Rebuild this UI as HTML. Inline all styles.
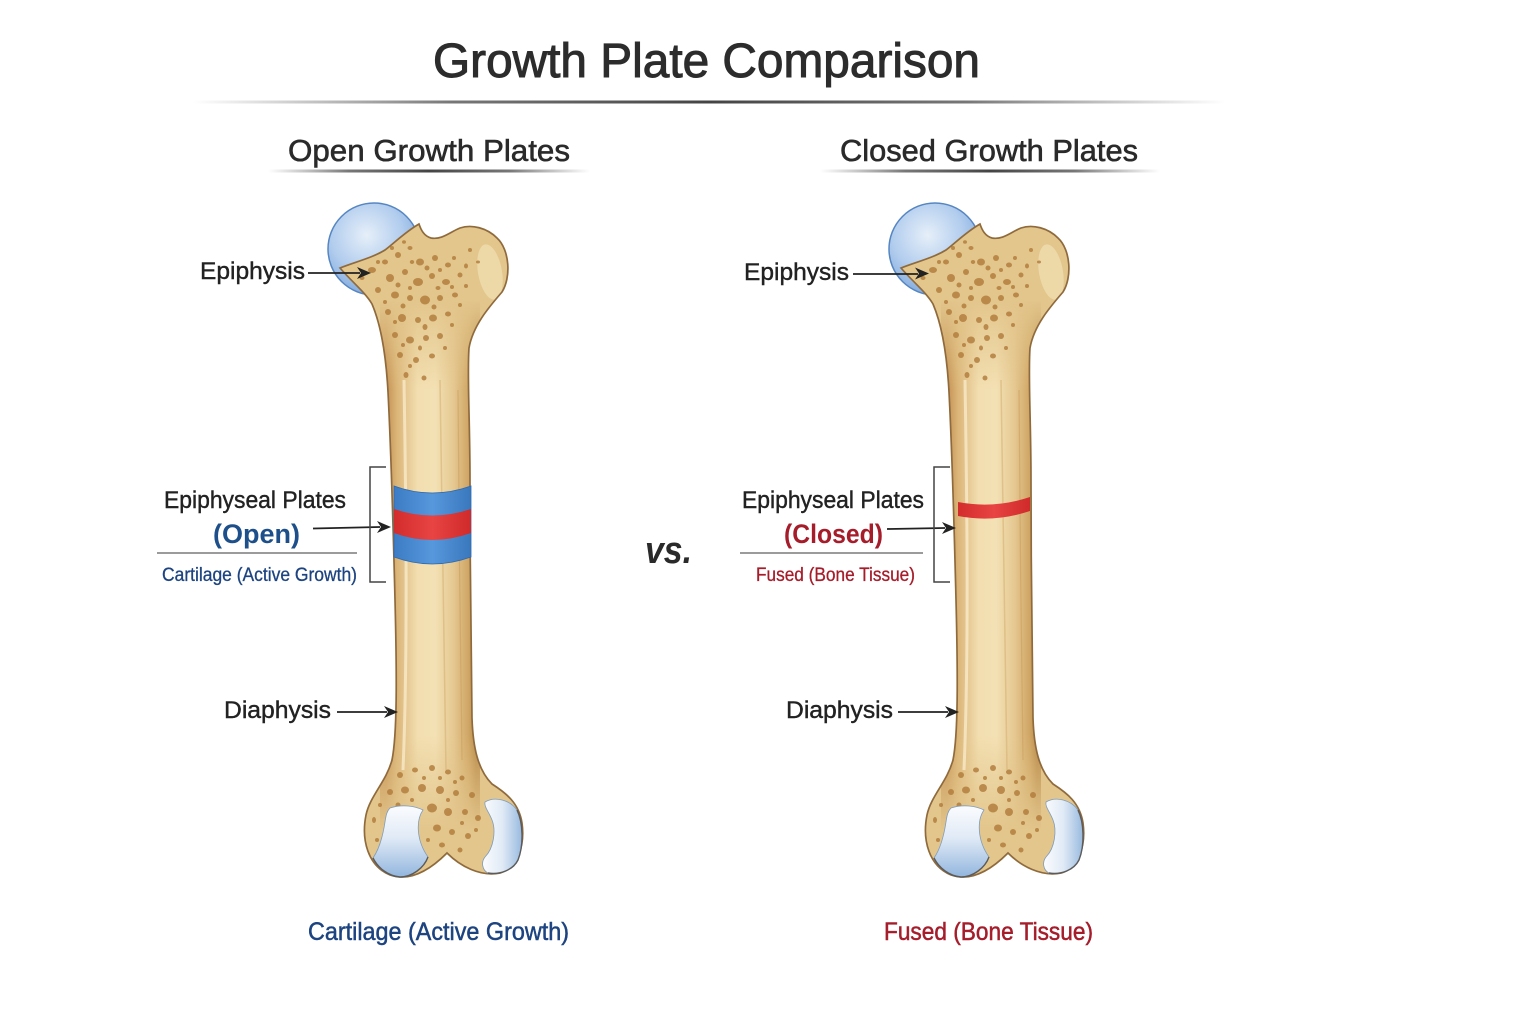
<!DOCTYPE html>
<html><head><meta charset="utf-8"><style>
html,body{margin:0;padding:0;background:#fff;}
svg{display:block;}
text{font-family:"Liberation Sans",Arial,sans-serif;}
</style></head><body>
<svg width="1536" height="1024" viewBox="0 0 1536 1024" xmlns="http://www.w3.org/2000/svg">
<defs>
  <linearGradient id="rule" x1="0" x2="1" y1="0" y2="0">
    <stop offset="0" stop-color="#666" stop-opacity="0"/>
    <stop offset="0.25" stop-color="#555" stop-opacity="0.8"/>
    <stop offset="0.5" stop-color="#444" stop-opacity="1"/>
    <stop offset="0.75" stop-color="#555" stop-opacity="0.8"/>
    <stop offset="1" stop-color="#666" stop-opacity="0"/>
  </linearGradient>
  <radialGradient id="head" cx="0.42" cy="0.35" r="0.7">
    <stop offset="0" stop-color="#e6eff9"/>
    <stop offset="0.55" stop-color="#b2cdee"/>
    <stop offset="1" stop-color="#7aa5da"/>
  </radialGradient>
  <linearGradient id="shaft" gradientUnits="userSpaceOnUse" x1="386" y1="0" x2="476" y2="0">
    <stop offset="0" stop-color="#c38f52"/>
    <stop offset="0.12" stop-color="#dbb578"/>
    <stop offset="0.35" stop-color="#f2deb0"/>
    <stop offset="0.55" stop-color="#f3e0b4"/>
    <stop offset="0.75" stop-color="#e5c891"/>
    <stop offset="0.92" stop-color="#cfa564"/>
    <stop offset="1" stop-color="#b98a4a"/>
  </linearGradient>
  <linearGradient id="vfade" gradientUnits="userSpaceOnUse" x1="0" y1="300" x2="0" y2="830">
    <stop offset="0" stop-color="#000"/>
    <stop offset="0.17" stop-color="#fff"/>
    <stop offset="0.82" stop-color="#fff"/>
    <stop offset="1" stop-color="#000"/>
  </linearGradient>
  <mask id="vm"><rect x="320" y="190" width="220" height="720" fill="url(#vfade)"/></mask>
  <linearGradient id="condA" x1="0" y1="0" x2="0" y2="1">
    <stop offset="0" stop-color="#fbfcfe"/>
    <stop offset="0.45" stop-color="#e0eaf6"/>
    <stop offset="1" stop-color="#92b6de"/>
  </linearGradient>
  <linearGradient id="condB" x1="0" y1="0" x2="1" y2="0">
    <stop offset="0" stop-color="#fbfcfe"/>
    <stop offset="0.5" stop-color="#e0eaf6"/>
    <stop offset="1" stop-color="#98badf"/>
  </linearGradient>
  <linearGradient id="blueb" x1="0" x2="1" y1="0" y2="0">
    <stop offset="0" stop-color="#3b7cc4"/>
    <stop offset="0.5" stop-color="#5797dc"/>
    <stop offset="1" stop-color="#3a78be"/>
  </linearGradient>
  <linearGradient id="redb" x1="0" x2="1" y1="0" y2="0">
    <stop offset="0" stop-color="#d42c2c"/>
    <stop offset="0.5" stop-color="#e84444"/>
    <stop offset="1" stop-color="#d02a2a"/>
  </linearGradient>
  <path id="bp" d="M 340,268 C 352,282 365,292 372,304 C 381,325 386,355 388,392 C 391,450 393,520 395,600 C 397,680 397,735 392,760 C 386,782 370,796 366,815 C 361,840 368,866 390,875 C 410,882 430,870 447,853 C 460,866 480,877 500,873 C 518,868 525,845 522,823 C 519,803 506,793 492,784 C 478,770 473,748 472,718 C 471,650 470,560 470,480 C 470,420 467,375 469,348 C 473,325 490,306 502,292 C 511,278 510,250 497,238 C 487,228 472,224 460,228 C 450,232 442,240 431,238 C 424,236 421,230 419,224 C 405,232 392,245 385,250 C 372,258 355,262 340,268 Z"/>
  <clipPath id="bc"><use href="#bp"/></clipPath>
  <g id="bone">
    <circle cx="374" cy="249" r="46" fill="url(#head)" stroke="#5686c2" stroke-width="1.5"/>
    <use href="#bp" fill="#e3c68c"/>
    <g clip-path="url(#bc)">
      <rect x="380" y="300" width="100" height="530" fill="url(#shaft)" mask="url(#vm)"/>
      <ellipse cx="490" cy="272" rx="12" ry="28" fill="#f1e0b4" opacity="0.7" transform="rotate(-10 490 272)"/>
      <path d="M 404,380 C 406,500 408,650 403,770" stroke="#fbefd2" stroke-width="3" fill="none" opacity="0.7"/>
      <path d="M 440,380 C 442,520 444,650 446,770" stroke="#d6b274" stroke-width="1.5" fill="none" opacity="0.6"/>
      <path d="M 458,390 C 459,500 460,650 462,760" stroke="#c99a5c" stroke-width="1.2" fill="none" opacity="0.5"/>
      <g fill="#b07a3a" opacity="0.8">
        <ellipse cx="372" cy="270" rx="4" ry="3"/><ellipse cx="385" cy="262" rx="3" ry="2.5"/>
        <ellipse cx="398" cy="255" rx="3" ry="3"/><ellipse cx="410" cy="248" rx="2.5" ry="2"/>
        <ellipse cx="420" cy="262" rx="4" ry="3.5"/><ellipse cx="435" cy="258" rx="3" ry="3"/>
        <ellipse cx="448" cy="265" rx="3" ry="2.5"/><ellipse cx="390" cy="278" rx="4" ry="4"/>
        <ellipse cx="405" cy="272" rx="3" ry="3"/><ellipse cx="418" cy="282" rx="5" ry="4"/>
        <ellipse cx="432" cy="276" rx="3" ry="3"/><ellipse cx="446" cy="282" rx="4" ry="3"/>
        <ellipse cx="460" cy="275" rx="2.5" ry="2.5"/><ellipse cx="378" cy="290" rx="3" ry="3"/>
        <ellipse cx="395" cy="295" rx="4" ry="3.5"/><ellipse cx="410" cy="298" rx="3" ry="3"/>
        <ellipse cx="425" cy="300" rx="5" ry="4.5"/><ellipse cx="440" cy="298" rx="3" ry="3"/>
        <ellipse cx="455" cy="295" rx="3" ry="2.5"/><ellipse cx="388" cy="312" rx="3" ry="3"/>
        <ellipse cx="402" cy="318" rx="4" ry="4"/><ellipse cx="418" cy="320" rx="3" ry="3"/>
        <ellipse cx="433" cy="318" rx="4" ry="3.5"/><ellipse cx="448" cy="314" rx="3" ry="2.5"/>
        <ellipse cx="395" cy="335" rx="3" ry="3"/><ellipse cx="410" cy="340" rx="4" ry="3.5"/>
        <ellipse cx="426" cy="338" rx="3" ry="3"/><ellipse cx="440" cy="336" rx="3" ry="3"/>
        <ellipse cx="400" cy="355" rx="3" ry="3"/><ellipse cx="416" cy="360" rx="3" ry="3"/>
        <ellipse cx="432" cy="356" rx="3" ry="2.5"/><ellipse cx="406" cy="375" rx="2.5" ry="3"/>
        <ellipse cx="424" cy="378" rx="2.5" ry="2.5"/><ellipse cx="470" cy="250" rx="2" ry="2"/>
        <ellipse cx="478" cy="262" rx="2" ry="1.5"/><ellipse cx="362" cy="278" rx="2.5" ry="2"/>
        <ellipse cx="378" cy="262" rx="2" ry="2"/><ellipse cx="392" cy="248" rx="2" ry="2"/>
        <ellipse cx="404" cy="242" rx="2" ry="1.8"/><ellipse cx="412" cy="262" rx="2.2" ry="2"/>
        <ellipse cx="427" cy="268" rx="2.5" ry="2.5"/><ellipse cx="440" cy="270" rx="2" ry="2"/>
        <ellipse cx="454" cy="258" rx="2" ry="2"/><ellipse cx="466" cy="266" rx="2" ry="2.5"/>
        <ellipse cx="398" cy="285" rx="2.5" ry="2.5"/><ellipse cx="410" cy="288" rx="2" ry="2"/>
        <ellipse cx="438" cy="288" rx="2.5" ry="2"/><ellipse cx="452" cy="287" rx="2" ry="2"/>
        <ellipse cx="466" cy="286" rx="2" ry="2"/><ellipse cx="385" cy="302" rx="2" ry="2"/>
        <ellipse cx="403" cy="306" rx="2.5" ry="2.5"/><ellipse cx="434" cy="307" rx="2.5" ry="2.5"/>
        <ellipse cx="460" cy="305" rx="2" ry="2"/><ellipse cx="395" cy="322" rx="2" ry="2"/>
        <ellipse cx="425" cy="327" rx="2.5" ry="3"/><ellipse cx="452" cy="325" rx="2" ry="2"/>
        <ellipse cx="403" cy="345" rx="2" ry="2"/><ellipse cx="420" cy="348" rx="2" ry="2.5"/>
        <ellipse cx="445" cy="348" rx="2" ry="2"/><ellipse cx="410" cy="366" rx="2" ry="2"/>
        <ellipse cx="400" cy="775" rx="3" ry="3"/><ellipse cx="415" cy="770" rx="3" ry="2.5"/>
        <ellipse cx="432" cy="768" rx="3" ry="3"/><ellipse cx="448" cy="772" rx="3" ry="2.5"/>
        <ellipse cx="462" cy="778" rx="2.5" ry="2.5"/><ellipse cx="390" cy="792" rx="3" ry="3"/>
        <ellipse cx="405" cy="790" rx="4" ry="3.5"/><ellipse cx="422" cy="788" rx="4" ry="4"/>
        <ellipse cx="440" cy="790" rx="4" ry="4"/><ellipse cx="456" cy="793" rx="3" ry="3"/>
        <ellipse cx="472" cy="795" rx="3" ry="3"/><ellipse cx="398" cy="805" rx="2.5" ry="2.5"/>
        <ellipse cx="432" cy="808" rx="5" ry="4.5"/><ellipse cx="448" cy="812" rx="4" ry="4"/>
        <ellipse cx="465" cy="812" rx="3" ry="3"/><ellipse cx="478" cy="818" rx="3" ry="3"/>
        <ellipse cx="437" cy="828" rx="4" ry="3.5"/><ellipse cx="452" cy="832" rx="3" ry="3"/>
        <ellipse cx="468" cy="836" rx="3" ry="3"/><ellipse cx="442" cy="845" rx="3" ry="2.5"/>
        <ellipse cx="460" cy="850" rx="2.5" ry="2.5"/><ellipse cx="374" cy="820" rx="2" ry="3"/>
        <ellipse cx="377" cy="840" rx="2" ry="2"/><ellipse cx="424" cy="778" rx="2" ry="2"/>
        <ellipse cx="440" cy="778" rx="2" ry="2"/><ellipse cx="455" cy="782" rx="2" ry="2"/>
        <ellipse cx="412" cy="800" rx="2" ry="2"/><ellipse cx="448" cy="800" rx="2" ry="2"/>
        <ellipse cx="462" cy="823" rx="2" ry="2"/><ellipse cx="476" cy="830" rx="2" ry="2"/>
        <ellipse cx="428" cy="840" rx="2" ry="2"/><ellipse cx="380" cy="805" rx="2" ry="2"/>
      </g>
    </g>
    <use href="#bp" fill="none" stroke="#8f6a3c" stroke-width="1.7"/>
    <path d="M 390,808 C 402,804 415,806 423,810 C 416,820 416,840 428,857 C 424,868 412,877 400,877 C 388,876 377,868 373,858 C 380,848 383,835 385,822 C 386,815 387,811 390,808 Z" fill="url(#condA)" stroke="#7f9cbc" stroke-width="0.8"/>
    <path d="M 485,802 C 495,796 510,800 517,810 C 523,822 524,845 518,860 C 513,870 500,875 488,873 C 482,870 481,862 485,857 C 494,848 496,830 492,820 C 489,812 484,807 485,802 Z" fill="url(#condB)" stroke="#7f9cbc" stroke-width="0.8"/>
    <path d="M 373,858 C 378,868 388,876 400,877 C 412,877 424,868 428,857" fill="none" stroke="#5b5b5b" stroke-width="1.4"/>
    <path d="M 488,873 C 500,875 513,870 518,860 C 524,845 523,822 517,810" fill="none" stroke="#5b5b5b" stroke-width="1.4"/>
  </g>
</defs>

<text x="433" y="77" font-size="48" fill="#2c2c2c" stroke="#2c2c2c" stroke-width="1" textLength="547" lengthAdjust="spacingAndGlyphs">Growth Plate Comparison</text>
<rect x="193" y="100.5" width="1032" height="3" fill="url(#rule)"/>

<text x="288" y="161" font-size="31" fill="#2a2a2a" stroke="#2a2a2a" stroke-width="0.6" textLength="282" lengthAdjust="spacingAndGlyphs">Open Growth Plates</text>
<rect x="268" y="169.5" width="322" height="3" fill="url(#rule)"/>
<text x="840" y="161" font-size="31" fill="#2a2a2a" stroke="#2a2a2a" stroke-width="0.6" textLength="298" lengthAdjust="spacingAndGlyphs">Closed Growth Plates</text>
<rect x="820" y="169.5" width="340" height="3" fill="url(#rule)"/>

<use href="#bone"/>
<use href="#bone" transform="translate(561,0)"/>

<path d="M 394,486 Q 432,500 471,486 L 471,557 Q 432,571 394,557 Z" fill="url(#blueb)" stroke="#2f69ad" stroke-width="0.8"/>
<path d="M 394,509 Q 432,522 471,509 L 471,533 Q 432,547 394,533 Z" fill="url(#redb)"/>
<path d="M 958,502 Q 994,509 1030,497 L 1030,511 Q 994,523 958,516 Z" fill="url(#redb)"/>

<text x="200" y="279" font-size="24" fill="#222" stroke="#222" stroke-width="0.4" textLength="105" lengthAdjust="spacingAndGlyphs">Epiphysis</text>
<line x1="308" y1="273" x2="360" y2="273" stroke="#222" stroke-width="1.8"/>
<path d="M 371,273 L 357,267 L 361,273 L 357,279 Z" fill="#222"/>

<text x="164" y="508" font-size="24" fill="#222" stroke="#222" stroke-width="0.4" textLength="182" lengthAdjust="spacingAndGlyphs">Epiphyseal Plates</text>
<text x="213" y="543" font-size="27" font-weight="bold" fill="#1d4f8a" textLength="87" lengthAdjust="spacingAndGlyphs">(Open)</text>
<line x1="313" y1="528.5" x2="380" y2="527" stroke="#222" stroke-width="1.8"/>
<path d="M 391,527 L 377,521 L 381,527 L 377,533 Z" fill="#222"/>
<line x1="157" y1="553" x2="357" y2="553" stroke="#7a7a7a" stroke-width="1.5"/>
<text x="162" y="581" font-size="19" fill="#1d4480" stroke="#1d4480" stroke-width="0.3" textLength="195" lengthAdjust="spacingAndGlyphs">Cartilage (Active Growth)</text>
<path d="M 386,467 L 370,467 L 370,582 L 386,582" fill="none" stroke="#444" stroke-width="1.5"/>

<text x="224" y="718" font-size="24" fill="#222" stroke="#222" stroke-width="0.4" textLength="107" lengthAdjust="spacingAndGlyphs">Diaphysis</text>
<line x1="337" y1="712" x2="387" y2="712" stroke="#222" stroke-width="1.8"/>
<path d="M 398,712 L 384,706 L 388,712 L 384,718 Z" fill="#222"/>

<text x="744" y="280" font-size="24" fill="#222" stroke="#222" stroke-width="0.4" textLength="105" lengthAdjust="spacingAndGlyphs">Epiphysis</text>
<line x1="853" y1="274" x2="918" y2="274" stroke="#222" stroke-width="1.8"/>
<path d="M 929,273.5 L 915,267.5 L 919,273.5 L 915,279.5 Z" fill="#222"/>

<text x="742" y="508" font-size="24" fill="#222" stroke="#222" stroke-width="0.4" textLength="182" lengthAdjust="spacingAndGlyphs">Epiphyseal Plates</text>
<text x="784" y="543" font-size="27" font-weight="bold" fill="#a51d2b" textLength="99" lengthAdjust="spacingAndGlyphs">(Closed)</text>
<line x1="887" y1="529" x2="945" y2="528" stroke="#222" stroke-width="1.8"/>
<path d="M 956,528 L 942,522 L 946,528 L 942,534 Z" fill="#222"/>
<line x1="740" y1="553" x2="923" y2="553" stroke="#7a7a7a" stroke-width="1.5"/>
<text x="756" y="581" font-size="19" fill="#a51d2b" stroke="#a51d2b" stroke-width="0.3" textLength="159" lengthAdjust="spacingAndGlyphs">Fused (Bone Tissue)</text>
<path d="M 950,467 L 934,467 L 934,582 L 950,582" fill="none" stroke="#444" stroke-width="1.5"/>

<text x="786" y="718" font-size="24" fill="#222" stroke="#222" stroke-width="0.4" textLength="107" lengthAdjust="spacingAndGlyphs">Diaphysis</text>
<line x1="898" y1="712" x2="948" y2="712" stroke="#222" stroke-width="1.8"/>
<path d="M 959,712 L 945,706 L 949,712 L 945,718 Z" fill="#222"/>

<text x="645" y="563" font-size="38" font-weight="bold" font-style="italic" fill="#2a2a2a" textLength="47" lengthAdjust="spacingAndGlyphs">vs.</text>

<text x="308" y="940" font-size="25" fill="#1d4480" stroke="#1d4480" stroke-width="0.5" textLength="261" lengthAdjust="spacingAndGlyphs">Cartilage (Active Growth)</text>
<text x="884" y="940" font-size="25" fill="#a51d2b" stroke="#a51d2b" stroke-width="0.5" textLength="209" lengthAdjust="spacingAndGlyphs">Fused (Bone Tissue)</text>
</svg>
</body></html>
